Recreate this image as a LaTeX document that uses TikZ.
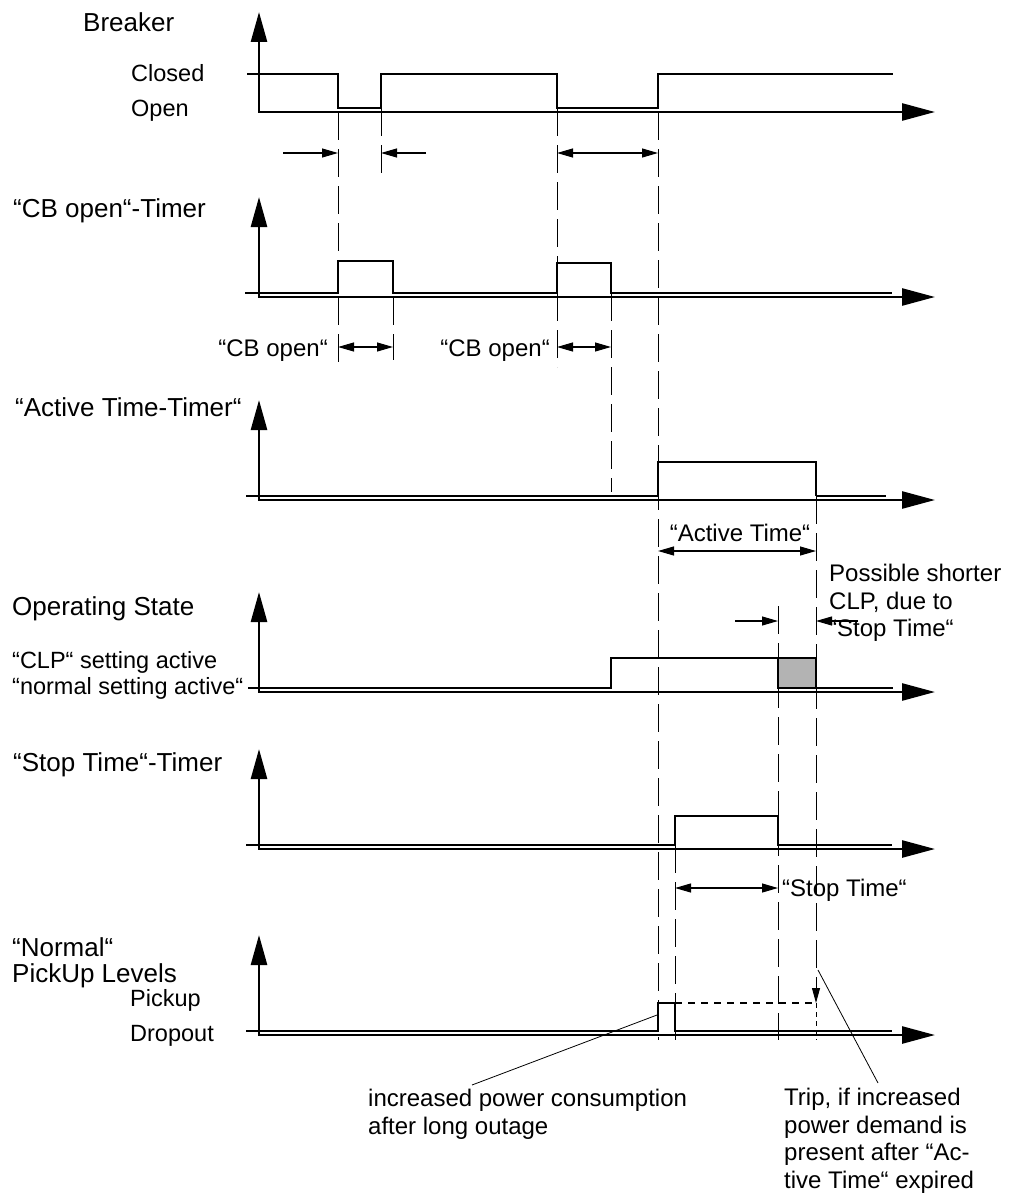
\documentclass[tikz,border=0pt]{standalone}
\usepackage{fontspec}
\setmainfont{Liberation Sans}
\usetikzlibrary{arrows.meta}
\begin{document}
\begin{tikzpicture}[x=1pt,y=-1pt,
  sig/.style={line width=2.6pt, line join=miter},
  axisline/.style={line width=2.6pt, {Triangle[length=30pt,width=16pt]}-{Triangle[length=33pt,width=17pt]}},
  guide/.style={line width=0.9pt, dash pattern=on 28pt off 9pt},
  fine/.style={line width=0.8pt},
  dimarrow/.style={line width=1.1pt, {Triangle[length=16pt,width=9pt]}-{Triangle[length=16pt,width=9pt]}},
  onearrow/.style={line width=1.1pt, -{Triangle[length=16pt,width=9pt]}},
  title/.style={inner sep=0pt, anchor=base west, font=\fontsize{26}{28}\selectfont},
  lbl/.style={inner sep=0pt, anchor=base west, font=\fontsize{23.5}{26}\selectfont},
  note/.style={inner sep=0pt, anchor=base west, font=\fontsize{24}{26}\selectfont},
  multi/.style={inner sep=0pt, anchor=north west, align=left, font=\fontsize{24}{27.5}\selectfont}
]
\useasboundingbox (0,0) rectangle (1011,1196);

% ---------- guide lines ----------
\draw[guide] (338,112) -- (338,363);
\draw[guide] (381,108) -- (381,180);
\draw[guide] (557,108) -- (557,367);
\draw[guide] (658,112) -- (658,1040);
\draw[guide] (393,297) -- (393,360);
\draw[guide] (611,293) -- (611,492);
\draw[guide] (816,496) -- (816,988);
\draw[guide] (778,606) -- (778,1040);
\draw[guide] (675,845) -- (675,1040);
\draw[line width=0.9pt, dash pattern=on 5pt off 4pt] (816,1003) -- (816,1040);

% ---------- Breaker ----------
\node[title] (tBreaker) at (83,32) {Breaker};
\node[lbl] (tClosed) at (131,81.5) {Closed};
\node[lbl] (tOpen) at (131,116.5) {Open};
\draw[axisline] (259,12) -- (259,112) -- (935,112);
\draw[sig] (247,74) -- (338,74) -- (338,108) -- (381,108) -- (381,74) -- (557,74) -- (557,108) -- (658,108) -- (658,74) -- (893,74);
\draw[onearrow] (283,153) -- (338,153);
\draw[onearrow] (426,153) -- (381,153);
\draw[dimarrow] (557,153) -- (658,153);

% ---------- CB open Timer ----------
\node[title] (tCB) at (13,217) {“CB open“-Timer};
\draw[axisline] (259,197) -- (259,297) -- (935,297);
\draw[sig] (245,293) -- (338,293) -- (338,261) -- (393,261) -- (393,293) -- (557,293) -- (557,263) -- (611,263) -- (611,293) -- (892,293);
\node[note, anchor=base east] (tCBo1) at (328,356.5) {“CB open“};
\node[note, anchor=base east] (tCBo2) at (550,356.5) {“CB open“};
\draw[dimarrow] (338,347) -- (393,347);
\draw[dimarrow] (557,347) -- (611,347);

% ---------- Active Time Timer ----------
\node[title] (tAct) at (15,416) {“Active Time-Timer“};
\draw[axisline] (259,400) -- (259,500) -- (935,500);
\draw[sig] (246,496) -- (658,496) -- (658,462) -- (816,462) -- (816,496);
\draw[line width=1.3pt] (816,496) -- (886,496);
\node[note, anchor=base] (tActT) at (740,541.5) {“Active Time“};
\draw[dimarrow] (658,551) -- (816,551);

% ---------- Operating State ----------
\node[title] (tOp) at (12,615) {Operating State};
\node[lbl] (tCLP) at (12,668.5) {“CLP“ setting active};
\node[lbl] (tNorm) at (12,694.5) {“normal setting active“};
\draw[axisline] (259,592) -- (259,692) -- (935,692);
\draw[sig, fill={rgb,255:red,179;green,179;blue,179}] (778,658) rectangle (816,688);
\draw[sig] (248,688) -- (611,688) -- (611,658) -- (816,658) -- (816,688) -- (893,688);
\node[multi] (tPoss) at (829,564) {Possible shorter\\CLP, due to\\“Stop Time“};
\draw[onearrow] (735,621) -- (778,621);
\draw[onearrow] (858,621) -- (816,621);

% ---------- Stop Time Timer ----------
\node[title] (tStop) at (13,771) {“Stop Time“-Timer};
\draw[axisline] (259,749) -- (259,849) -- (935,849);
\draw[sig] (246,845) -- (675,845) -- (675,816) -- (778,816) -- (778,845) -- (892,845);
\node[note] (tStopT) at (782,896.5) {“Stop Time“};
\draw[dimarrow] (675,888) -- (778,888);

% ---------- PickUp Levels ----------
\node[title] (tNormal) at (12,956) {“Normal“};
\node[title] (tPU) at (12,982) {PickUp Levels};
\node[lbl] (tPick) at (130,1006.5) {Pickup};
\node[lbl] (tDrop) at (130,1041.5) {Dropout};
\draw[axisline] (259,935) -- (259,1035) -- (935,1035);
\draw[sig] (246,1031) -- (658,1031) -- (658,1003) -- (675,1003) -- (675,1031) -- (892,1031);
\draw[line width=2pt, dash pattern=on 7pt off 6pt] (675,1003) -- (816,1003);
\draw[line width=0.9pt, -{Triangle[length=15pt,width=8pt]}] (816,986) -- (816,1003);

% ---------- annotations ----------
\node[multi] (tInc) at (368,1089) {increased power consumption\\after long outage};
\node[multi] (tTrip) at (784,1088) {Trip, if increased\\power demand is\\present after “Ac-\\tive Time“ expired};
\coordinate (pIncr) at (657,1015);
\coordinate (eIncr) at (472,1085);
\coordinate (pTrip) at (818,970);
\coordinate (eTrip) at (878,1083);
\draw[fine] (pIncr) -- (eIncr);
\draw[fine] (pTrip) -- (eTrip);
\end{tikzpicture}
\end{document}
